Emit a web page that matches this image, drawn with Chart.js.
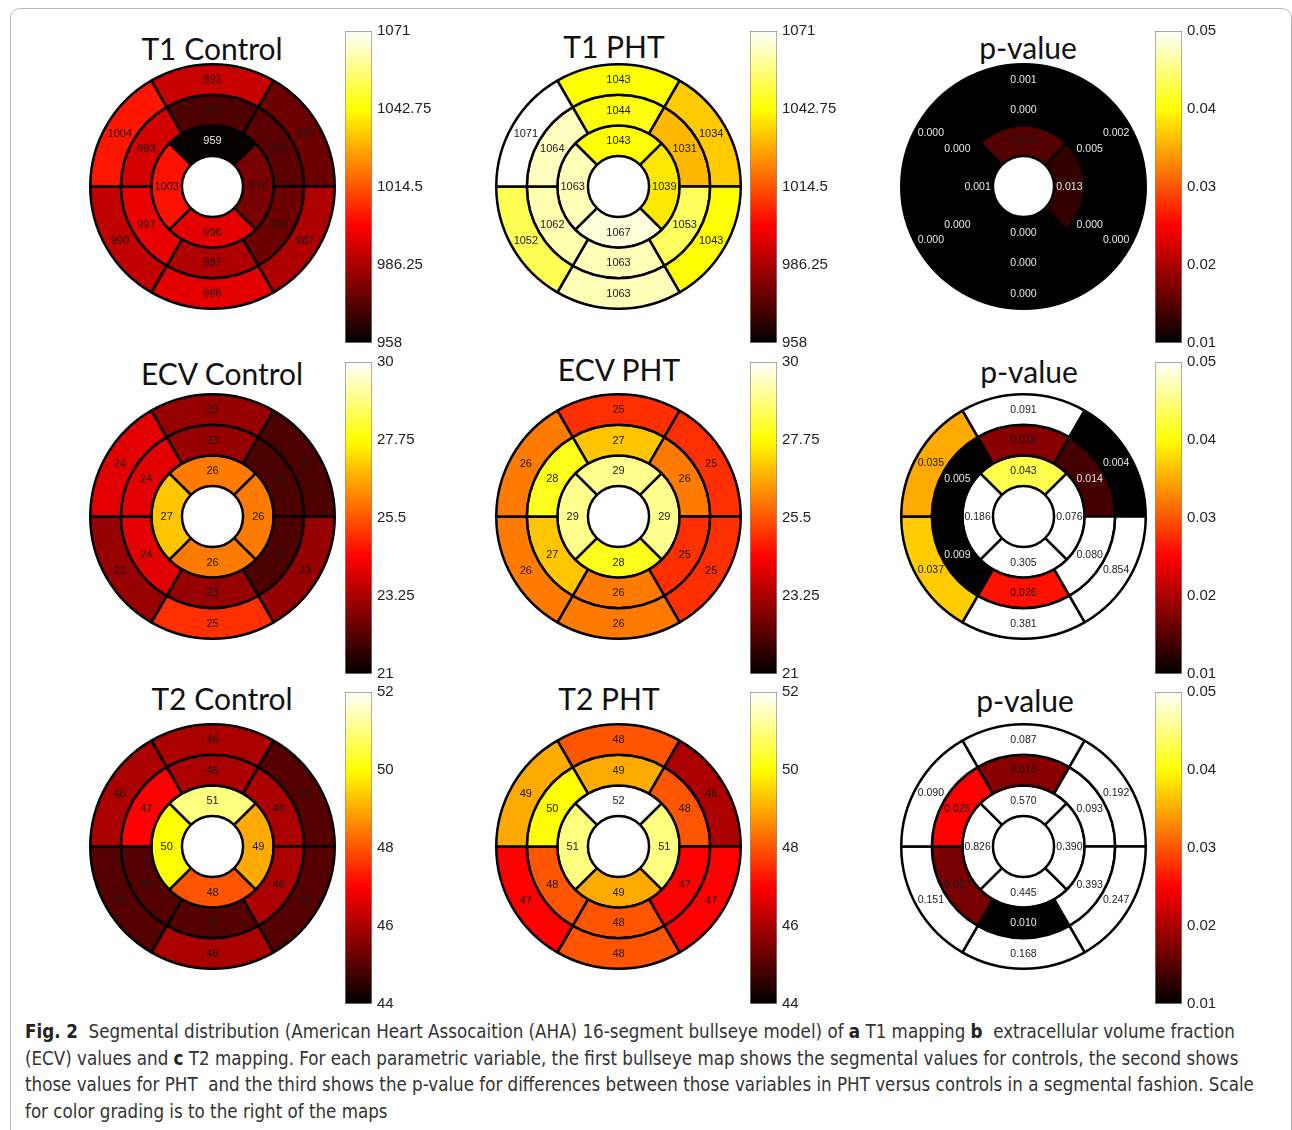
<!DOCTYPE html>
<html>
<head>
<meta charset="utf-8">
<script src="https://cdn.jsdelivr.net/npm/chart.js@4.4.1/dist/chart.umd.min.js"></script>
<style>
    body { margin: 0; width: 1292px; height: 1130px; position: relative; overflow: hidden; background: #fff; }
    .frame { position: absolute; left: 10px; top: 8px; width: 1280px; height: 1160px; border: 1px solid #b8b8b8; border-radius: 10px; }
    .title { position: absolute; font-family: Lato, "Open Sans", sans-serif; font-size: 30px; color: #111; transform: translate(-50%, -50%); white-space: nowrap; }
    canvas { position: absolute; }
    .caption { position: absolute; left: 25px; top: 1019px; width: 1260px; font-family: "Liberation Sans Narrow", "DejaVu Sans Condensed", sans-serif; font-stretch: condensed; font-size: 18.6px; line-height: 26.5px; color: #333; white-space: nowrap; }
    .caption b { color: #222; }
</style>
</head>
<body>
<div class="frame"></div>
<div class="caption">
<b>Fig. 2</b>&nbsp; Segmental distribution (American Heart Assocaition (AHA) 16-segment bullseye model) of <b>a</b> T1 mapping <b>b</b>&nbsp; extracellular volume fraction<br>
(ECV) values and <b>c</b> T2 mapping. For each parametric variable, the first bullseye map shows the segmental values for controls, the second shows<br>
those values for PHT&nbsp; and the third shows the p-value for differences between those variables in PHT versus controls in a segmental fashion. Scale<br>
for color grading is to the right of the maps
</div>
<script>
// AHA 16-segment model, each ring listed clockwise starting at the top
const basalSegments = ['Basal anterior', 'Basal anterolateral', 'Basal inferolateral', 'Basal inferior', 'Basal inferoseptal', 'Basal anteroseptal'];
const midSegments = ['Mid anterior', 'Mid anterolateral', 'Mid inferolateral', 'Mid inferior', 'Mid inferoseptal', 'Mid anteroseptal'];
const apicalSegments = ['Apical anterior', 'Apical lateral', 'Apical inferior', 'Apical septal'];

// values: 6 basal, 6 mid, 4 apical (same order as above)
const t1Control = [991, 976, 987, 996, 990, 1004, 971, 973, 976, 987, 997, 993, 959, 978, 996, 1003];
const t1Pht = [1043, 1034, 1043, 1063, 1052, 1071, 1044, 1031, 1053, 1063, 1062, 1064, 1043, 1039, 1067, 1063];
const t1P = [0.001, 0.002, 0.000, 0.000, 0.000, 0.000, 0.000, 0.005, 0.000, 0.000, 0.000, 0.000, 0.015, 0.013, 0.000, 0.001];

const ecvControl = [23, 22, 23, 25, 23, 24, 23, 22, 22, 23, 24, 24, 26, 26, 26, 27];
const ecvPht = [25, 25, 25, 26, 26, 26, 27, 26, 25, 26, 27, 28, 29, 29, 28, 29];
const ecvP = [0.091, 0.004, 0.854, 0.381, 0.037, 0.035, 0.018, 0.014, 0.080, 0.026, 0.009, 0.005, 0.043, 0.076, 0.305, 0.186];

const t2Control = [46, 45, 45, 46, 45, 46, 46, 46, 46, 45, 45, 47, 51, 49, 48, 50];
const t2Pht = [48, 46, 47, 48, 47, 49, 49, 48, 47, 48, 48, 50, 52, 51, 49, 51];
const t2P = [0.087, 0.192, 0.247, 0.168, 0.151, 0.090, 0.018, 0.093, 0.393, 0.010, 0.017, 0.025, 0.570, 0.390, 0.445, 0.826];

// colour bar ticks
const t1Ticks = [958, 986.25, 1014.5, 1042.75, 1071];
const ecvTicks = [21, 23.25, 25.5, 27.75, 30];
const t2Ticks = [44, 46, 48, 50, 52];
const pTicks = [0.01, 0.02, 0.03, 0.04, 0.05];

// MATLAB-style "hot" colormap
function clamp01(v) { return Math.max(0, Math.min(1, v)); }
function hot(t) {
    t = clamp01(t);
    const r = clamp01(t / 0.375), g = clamp01((t - 0.375) / 0.375), b = clamp01((t - 0.75) / 0.25);
    return 'rgb(' + Math.round(r * 255) + ',' + Math.round(g * 255) + ',' + Math.round(b * 255) + ')';
}

const panels = [
    { title: 'T1 Control', values: t1Control, ticks: t1Ticks, p: false, row: 0, col: 0, tx: 212, ty: 48 },
    { title: 'T1 PHT', values: t1Pht, ticks: t1Ticks, p: false, row: 0, col: 1, tx: 614, ty: 46 },
    { title: 'p-value', values: t1P, ticks: pTicks, p: true, row: 0, col: 2, tx: 1028, ty: 47 },
    { title: 'ECV Control', values: ecvControl, ticks: ecvTicks, p: false, row: 1, col: 0, tx: 222, ty: 373 },
    { title: 'ECV PHT', values: ecvPht, ticks: ecvTicks, p: false, row: 1, col: 1, tx: 619, ty: 369 },
    { title: 'p-value', values: ecvP, ticks: pTicks, p: true, row: 1, col: 2, tx: 1029, ty: 371 },
    { title: 'T2 Control', values: t2Control, ticks: t2Ticks, p: false, row: 2, col: 0, tx: 222, ty: 698 },
    { title: 'T2 PHT', values: t2Pht, ticks: t2Ticks, p: false, row: 2, col: 1, tx: 609, ty: 698 },
    { title: 'p-value', values: t2P, ticks: pTicks, p: true, row: 2, col: 2, tx: 1025, ty: 700 }
];

const centerX = [212.5, 618.5, 1023.5];
const centerY = [186.5, 516.5, 846.5];
const barLeft = [345, 750, 1155];
const barTop = [29, 360, 690];
const barHeight = 316;
const bullSize = 247;

// draws the segment value on each arc
const valueLabels = {
    id: 'valueLabels',
    afterDatasetsDraw(chart, args, opts) {
        const ctx = chart.ctx;
        ctx.save();
        ctx.textAlign = 'center';
        ctx.textBaseline = 'middle';
        ctx.font = opts.font;
        chart.data.datasets.forEach((ds, i) => {
            chart.getDatasetMeta(i).data.forEach((arc, j) => {
                const v = ds.values[j];
                const pt = arc.getCenterPoint();
                ctx.fillStyle = opts.norm(v) < 0.11 ? '#e8e8e8' : '#1a1a1a';
                ctx.fillText(opts.format(v), pt.x, pt.y + 0.5);
            });
        });
        ctx.restore();
    }
};

function addCanvas(left, top, w, h) {
    const c = document.createElement('canvas');
    c.width = w;
    c.height = h;
    c.style.left = left + 'px';
    c.style.top = top + 'px';
    document.body.appendChild(c);
    return c;
}

panels.forEach(function(panel) {
    const lo = panel.ticks[0], hi = panel.ticks[panel.ticks.length - 1];
    const norm = v => (v - lo) / (hi - lo);
    const format = panel.p ? (v => v.toFixed(3)) : (v => String(v));
    const rings = [
        { labels: basalSegments, values: panel.values.slice(0, 6), rotation: -30 },
        { labels: midSegments, values: panel.values.slice(6, 12), rotation: -30 },
        { labels: apicalSegments, values: panel.values.slice(12, 16), rotation: -45 }
    ];

    // title
    const t = document.createElement('div');
    t.className = 'title';
    t.textContent = panel.title;
    t.style.left = panel.tx + 'px';
    t.style.top = panel.ty + 'px';
    document.body.appendChild(t);

    // bullseye
    const cx = centerX[panel.col], cy = centerY[panel.row];
    const bull = addCanvas(cx - bullSize / 2, cy - bullSize / 2, bullSize, bullSize);
    new Chart(bull.getContext('2d'), {
        type: 'doughnut',
        data: {
            labels: basalSegments,
            datasets: rings.map(r => ({
                label: r.labels.join(', '),
                data: r.values.map(() => 1),
                values: r.values,
                rotation: r.rotation,
                backgroundColor: r.values.map(v => hot(norm(v))),
                borderColor: '#000',
                borderWidth: 2.5,
                hoverOffset: 0
            }))
        },
        options: {
            responsive: false,
            animation: false,
            events: [],
            cutout: '25%',
            layout: { padding: 0 },
            plugins: {
                legend: { display: false },
                tooltip: { enabled: false },
                valueLabels: { font: (panel.p ? '10.5px' : '11px') + ' "Liberation Sans", Arial, sans-serif', format: format, norm: norm }
            }
        },
        plugins: [valueLabels]
    });

    // colour bar
    const bar = addCanvas(barLeft[panel.col], barTop[panel.row] - 12, 27 + 75, barHeight + 24);
    new Chart(bar.getContext('2d'), {
        type: 'bar',
        data: {
            labels: [''],
            datasets: [{
                data: [[lo, hi]],
                backgroundColor: function(c) {
                    const area = c.chart.chartArea;
                    if (!area) return null;
                    const g = c.chart.ctx.createLinearGradient(0, area.bottom, 0, area.top);
                    for (let i = 0; i <= 40; i++) g.addColorStop(i / 40, hot(i / 40));
                    return g;
                },
                borderColor: '#8a8a8a',
                borderWidth: 1,
                borderSkipped: false,
                barPercentage: 1,
                categoryPercentage: 1
            }]
        },
        options: {
            responsive: false,
            animation: false,
            events: [],
            layout: { padding: { top: 12, bottom: 12, left: 0, right: 0 } },
            plugins: { legend: { display: false }, tooltip: { enabled: false } },
            scales: {
                x: { display: false },
                y: {
                    position: 'right',
                    min: lo,
                    max: hi,
                    afterBuildTicks: s => { s.ticks = panel.ticks.map(v => ({ value: v })); },
                    afterFit: s => { s.width = 75; },
                    grid: { display: false, drawTicks: false },
                    border: { display: false },
                    ticks: {
                        padding: 5,
                        color: '#222',
                        font: { family: '"Liberation Sans", Arial, sans-serif', size: 15 },
                        callback: v => String(v)
                    }
                }
            }
        }
    });
});
</script>
</body>
</html>
